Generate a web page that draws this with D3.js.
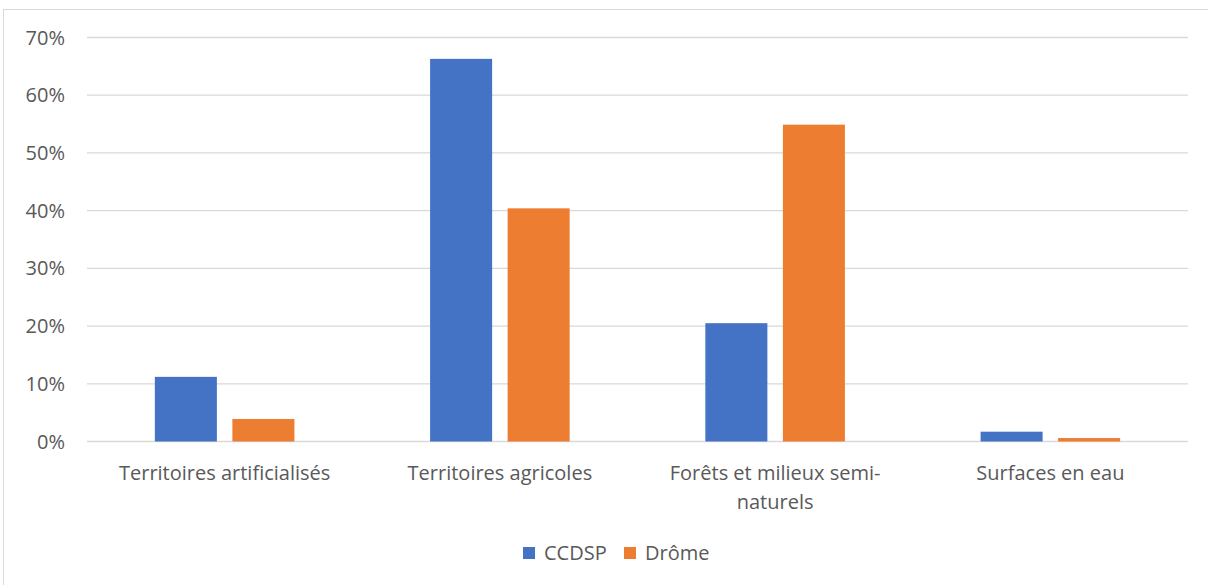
<!DOCTYPE html>
<html>
<head>
<meta charset="utf-8">
<script src="https://cdn.jsdelivr.net/npm/d3@7"></script>
<style>
  body { margin: 0; background: white; }
  svg { display: block; font-family: "Open Sans", Lato, sans-serif; }
</style>
</head>
<body>
<svg id="chart"></svg>
<script>
var categories = ["Territoires artificialisés", "Territoires agricoles", "Forêts et milieux semi-naturels", "Surfaces en eau"];
var seriesNames = ["CCDSP", "Drôme"];
var ccdsp = [0.112, 0.663, 0.205, 0.017];
var drome = [0.039, 0.404, 0.549, 0.006];
var yTicks = [0, 0.1, 0.2, 0.3, 0.4, 0.5, 0.6, 0.7];

var colors = {"CCDSP": "#4472C4", "Drôme": "#ED7D31"};

var W = 1208, H = 585;
var margin = {top: 37.5, left: 87, right: 20, bottom: 143.5};
var width = 1188 - margin.left,
    height = 441.5 - margin.top;
var fontSize = "20px";

var svg = d3.select("#chart").attr("width", W).attr("height", H);

// outer chart frame (cropped at right/bottom)
svg.append("rect")
  .attr("x", 3.5).attr("y", 9.5)
  .attr("width", 1400).attr("height", 800)
  .attr("fill", "none").attr("stroke", "#d9d9d9");

var g = svg.append("g")
  .attr("transform", "translate(" + margin.left + "," + margin.top + ")");

var x0 = d3.scaleBand().domain(categories).range([0, width])
  .paddingInner(0.493).paddingOuter(0.2465);
var x1 = d3.scaleBand().domain(seriesNames).range([0, x0.bandwidth()])
  .paddingInner(0.2).paddingOuter(0);
var y = d3.scaleLinear().domain([0, 0.7]).range([height, 0]);

// gridlines
g.selectAll("line.grid")
  .data(yTicks)
  .enter().append("line")
  .attr("class", "grid")
  .attr("x1", 0).attr("x2", width)
  .attr("y1", d => y(d)).attr("y2", d => y(d))
  .attr("stroke", "#d9d9d9").attr("stroke-width", 1.3);

// y labels
g.selectAll("text.ylab")
  .data(yTicks)
  .enter().append("text")
  .attr("class", "ylab")
  .attr("x", -22).attr("y", d => y(d))
  .attr("dy", "0.35em")
  .attr("text-anchor", "end")
  .attr("fill", "#595959")
  .style("font-size", fontSize)
  .text(d => d3.format(".0%")(d));

var rows = categories.map((c, i) => ({cat: c, vals: [ccdsp[i], drome[i]]}));

var groups = g.selectAll("g.cat")
  .data(rows)
  .enter().append("g")
  .attr("class", "cat")
  .attr("transform", d => "translate(" + x0(d.cat) + ",0)");

groups.selectAll("rect")
  .data(d => d.vals.map((v, j) => ({name: seriesNames[j], v: v})))
  .enter().append("rect")
  .attr("x", d => x1(d.name))
  .attr("y", d => y(d.v))
  .attr("width", x1.bandwidth())
  .attr("height", d => height - y(d.v))
  .attr("fill", d => colors[d.name]);

// category labels, wrapped like the original
var labelLines = {
  "Forêts et milieux semi-naturels": ["Forêts et milieux semi-", "naturels"]
};
groups.append("text")
  .attr("x", x0.bandwidth() / 2)
  .attr("y", height + 38)
  .attr("text-anchor", "middle")
  .attr("fill", "#595959")
  .style("font-size", fontSize)
  .selectAll("tspan")
  .data(d => labelLines[d.cat] || [d.cat])
  .enter().append("tspan")
  .attr("x", x0.bandwidth() / 2)
  .attr("dy", (d, i) => i === 0 ? 0 : 29)
  .text(d => d);

// legend
var legend = svg.append("g").attr("transform", "translate(523,553)");
var legX = [0, 101];
seriesNames.forEach(function(n, i) {
  var lg = legend.append("g").attr("transform", "translate(" + legX[i] + ",0)");
  lg.append("rect").attr("x", 0).attr("y", -6).attr("width", 12).attr("height", 12)
    .attr("fill", colors[n]);
  lg.append("text").attr("x", 21).attr("y", 0).attr("dy", "0.35em")
    .attr("fill", "#595959").style("font-size", fontSize).text(n);
});
</script>
</body>
</html>
